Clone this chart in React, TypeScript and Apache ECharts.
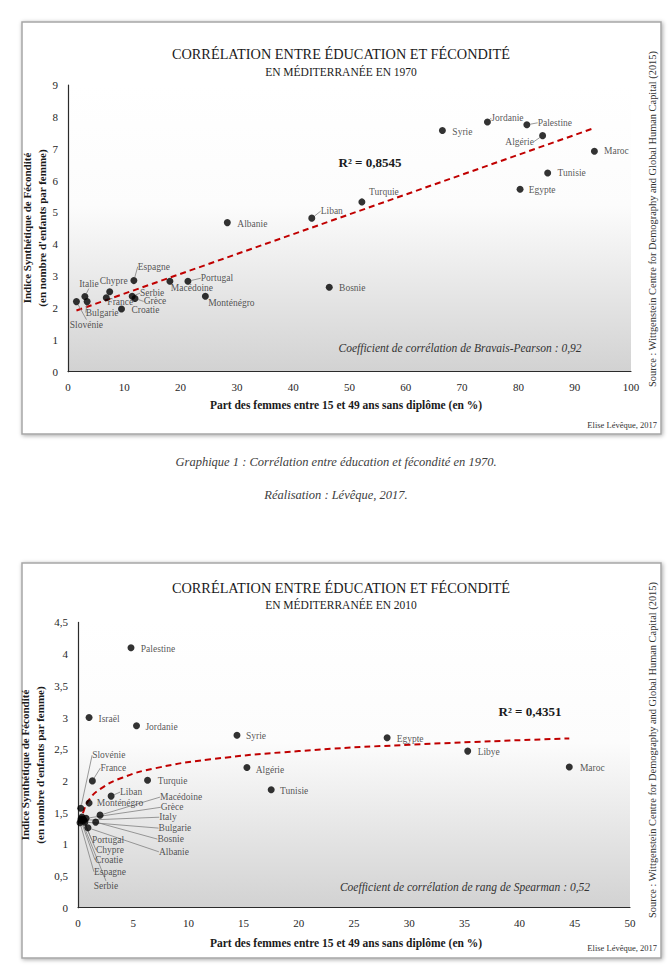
import React, { useEffect, useRef } from 'react';
import * as echarts from 'echarts';

// ---------- DATA (1970) ----------
const countries1970 = ['Slovénie', 'Italie', 'Bulgarie', 'Chypre', 'France', 'Espagne', 'Serbie', 'Grèce', 'Croatie', 'Macédoine', 'Portugal', 'Monténégro', 'Albanie', 'Liban', 'Bosnie', 'Turquie', 'Syrie', 'Jordanie', 'Palestine', 'Algérie', 'Maroc', 'Tunisie', 'Egypte'];
const share1970 = [1.5, 3.0, 3.4, 7.4, 6.8, 11.7, 11.4, 11.9, 9.5, 18.1, 21.3, 24.4, 28.3, 43.3, 46.4, 52.2, 66.5, 74.5, 81.5, 84.3, 93.5, 85.2, 80.3];
const fertility1970 = [2.2, 2.36, 2.2, 2.51, 2.32, 2.86, 2.37, 2.3, 1.97, 2.84, 2.84, 2.37, 4.68, 4.82, 2.65, 5.33, 7.57, 7.84, 7.75, 7.41, 6.92, 6.24, 5.73];
const trend1970 = [[1.5, 1.92], [93.5, 7.65]];
const r2Text1970 = 'R² = 0,8545';
const coefText1970 = 'Coefficient de corrélation de Bravais-Pearson : 0,92';

// ---------- DATA (2010) ----------
const countries2010 = ['Palestine', 'Israël', 'Jordanie', 'Syrie', 'Algérie', 'Tunisie', 'Turquie', 'Egypte', 'Libye', 'Maroc', 'France', 'Slovénie', 'Liban', 'Monténégro', 'Macédoine', 'Grèce', 'Italy', 'Bulgarie', 'Bosnie', 'Albanie', 'Portugal', 'Chypre', 'Croatie', 'Espagne', 'Serbie'];
const share2010 = [4.8, 1.0, 5.3, 14.4, 15.3, 17.5, 6.3, 28.0, 35.3, 44.5, 1.3, 0.25, 3.0, 1.0, 2.0, 0.73, 0.54, 0.63, 1.6, 0.9, 0.36, 0.45, 0.27, 0.18, 0.27];
const fertility2010 = [4.1, 3.0, 2.87, 2.72, 2.21, 1.86, 2.01, 2.68, 2.47, 2.22, 2.0, 1.57, 1.76, 1.65, 1.46, 1.41, 1.38, 1.35, 1.35, 1.26, 1.43, 1.4, 1.37, 1.34, 1.4];
const trend2010 = [[0.25, 1.34], [0.5, 1.52], [1, 1.7], [2, 1.87], [4, 2.05], [7, 2.2], [12, 2.34], [20, 2.47], [30, 2.57], [44.5, 2.67]];
const r2Text2010 = 'R² = 0,4351';
const coefText2010 = 'Coefficient de corrélation de rang de Spearman : 0,52';

// ---------- TICKS ----------
const xTicks1970 = { min: 0, max: 100, interval: 10 };
const yTicks1970 = { min: 0, max: 9, interval: 1 };
const xTicks2010 = { min: 0, max: 50, interval: 5 };
const yTicks2010 = { min: 0, max: 4.5, interval: 0.5 };

// ---------- LABEL PLACEMENT (pixel offsets from the point) ----------
const labelOffsets1970: Record<string, [number, number]> = {
  'Slovénie': [10, 23], 'Italie': [4, -13], 'Bulgarie': [15, 11], 'Chypre': [4, -11], 'France': [14, 4],
  'Espagne': [20, -14], 'Serbie': [20, -3], 'Grèce': [20, 3], 'Croatie': [24, 1], 'Macédoine': [22, 7],
  'Portugal': [29, -3], 'Monténégro': [26, 7], 'Albanie': [25, 1], 'Liban': [20, -7], 'Bosnie': [23, 1],
  'Turquie': [22, -10], 'Syrie': [20, 1], 'Jordanie': [20, -4], 'Palestine': [28, -2], 'Algérie': [-23, 6],
  'Maroc': [22, 0], 'Tunisie': [24, 0], 'Egypte': [22, 1],
};
const leader1970 = ['Slovénie', 'Italie', 'Bulgarie', 'Espagne', 'Serbie', 'Grèce', 'Portugal', 'Liban', 'Jordanie', 'Palestine', 'Algérie'];

const labelOffsets2010: Record<string, [number, number]> = {
  'Palestine': [27, 1], 'Israël': [20, 1], 'Jordanie': [25, 1], 'Syrie': [19, 1], 'Algérie': [23, 2],
  'Tunisie': [23, 1], 'Turquie': [25, 1], 'Egypte': [23, 1], 'Libye': [21, 1], 'Maroc': [23, 1],
  'France': [21, -13], 'Slovénie': [28, -53], 'Liban': [20, -4], 'Monténégro': [31, 0],
  'Macédoine': [81, -18], 'Grèce': [86, -11], 'Italy': [84, -3], 'Bulgarie': [90, 6], 'Bosnie': [75, 17],
  'Albanie': [86, 24], 'Portugal': [26, 23], 'Chypre': [27, 31], 'Croatie': [28, 39], 'Espagne': [30, 49],
  'Serbie': [25, 67],
};
const leader2010 = ['France', 'Slovénie', 'Liban', 'Macédoine', 'Grèce', 'Italy', 'Bulgarie', 'Bosnie', 'Albanie', 'Portugal', 'Chypre', 'Croatie', 'Espagne', 'Serbie'];

const SERIF = "'Liberation Serif', 'Times New Roman', serif";

function buildPoints(names: string[], xs: number[], ys: number[], leaders: string[]) {
  return names.map((n, i) => ({
    name: n,
    value: [xs[i], ys[i]],
    labelLine: { show: leaders.indexOf(n) >= 0 },
  }));
}

function axisCommon() {
  return {
    type: 'value' as const,
    axisLine: { show: true, onZero: false, lineStyle: { color: '#2b2b2b', width: 1.2 } },
    axisTick: { show: false },
    splitLine: { show: false },
    axisLabel: { fontFamily: SERIF, fontSize: 11, color: '#262626', margin: 10 },
  };
}

const plotBg = () =>
  new echarts.graphic.LinearGradient(0, 0, 0, 1, [
    { offset: 0, color: '#ffffff' },
    { offset: 0.42, color: '#fcfcfc' },
    { offset: 1, color: '#d2d2d2' },
  ]);

function txt(x: number, y: number, text: string, style: any, extra: any = {}) {
  return {
    type: 'text',
    x,
    y,
    z: 5,
    ...extra,
    style: { text, fontFamily: SERIF, fill: '#1a1a1a', align: 'center', verticalAlign: 'middle', ...style },
  };
}

function frame(y: number, h: number) {
  return {
    type: 'rect',
    z: -10,
    shape: { x: 22, y, width: 639, height: h },
    style: {
      fill: '#ffffff',
      stroke: '#a6a6a6',
      lineWidth: 1.5,
      shadowBlur: 4,
      shadowOffsetX: 1,
      shadowOffsetY: 1,
      shadowColor: 'rgba(0,0,0,0.35)',
    },
  };
}

export default function App() {
  const ref = useRef<HTMLDivElement>(null);

  useEffect(() => {
    if (!ref.current) return;
    const chart = echarts.init(ref.current, undefined, { renderer: 'svg' });

    const labelStyle = {
      show: true,
      position: 'inside',
      formatter: '{b}',
      fontFamily: SERIF,
      fontSize: 9.5,
      color: '#2a2a2a',
      align: 'center',
      verticalAlign: 'middle',
    };
    const lineStyleLeader = { show: true, lineStyle: { color: '#808080', width: 0.8 } };

    const option: any = {
      animation: false,
      backgroundColor: '#ffffff',
      grid: [
        { left: 68, top: 85, width: 563, height: 286.7, show: true, backgroundColor: plotBg(), borderWidth: 0, z: 0 },
        { left: 78, top: 622.4, width: 552, height: 285.3, show: true, backgroundColor: plotBg(), borderWidth: 0, z: 0 },
      ],
      xAxis: [
        { ...axisCommon(), gridIndex: 0, ...xTicks1970 },
        { ...axisCommon(), gridIndex: 1, ...xTicks2010 },
      ],
      yAxis: [
        { ...axisCommon(), gridIndex: 0, ...yTicks1970 },
        {
          ...axisCommon(),
          gridIndex: 1,
          ...yTicks2010,
          axisLabel: { ...axisCommon().axisLabel, formatter: (v: number) => String(v).replace('.', ',') },
        },
      ],
      series: [
        {
          type: 'line',
          xAxisIndex: 0,
          yAxisIndex: 0,
          data: trend1970,
          symbol: 'none',
          z: 2,
          lineStyle: { color: '#c00000', width: 2, type: [6, 4] },
        },
        {
          type: 'line',
          xAxisIndex: 1,
          yAxisIndex: 1,
          data: trend2010,
          symbol: 'none',
          smooth: true,
          z: 2,
          lineStyle: { color: '#c00000', width: 2, type: [6, 4] },
        },
        {
          type: 'scatter',
          xAxisIndex: 0,
          yAxisIndex: 0,
          symbolSize: 7,
          z: 4,
          itemStyle: { color: '#000000' },
          data: buildPoints(countries1970, share1970, fertility1970, leader1970),
          label: labelStyle,
          labelLine: lineStyleLeader,
          labelLayout: (p: any) => {
            const o = labelOffsets1970[countries1970[p.dataIndex]] || [20, 0];
            return { dx: o[0], dy: o[1] };
          },
        },
        {
          type: 'scatter',
          xAxisIndex: 1,
          yAxisIndex: 1,
          symbolSize: 7,
          z: 4,
          itemStyle: { color: '#000000' },
          data: buildPoints(countries2010, share2010, fertility2010, leader2010),
          label: labelStyle,
          labelLine: lineStyleLeader,
          labelLayout: (p: any) => {
            const o = labelOffsets2010[countries2010[p.dataIndex]] || [20, 0];
            return { dx: o[0], dy: o[1] };
          },
        },
      ],
      graphic: [
        frame(22, 412),
        frame(563, 395),
        // ----- chart 1970 texts -----
        txt(341, 54, 'CORRÉLATION ENTRE ÉDUCATION ET FÉCONDITÉ', { fontSize: 14.3 }),
        txt(341, 72, 'EN MÉDITERRANÉE EN 1970', { fontSize: 11.5 }),
        txt(34, 228, "Indice Synthétique de Fécondité\n(en nombre d'enfants par femme)", { fontSize: 11, fontWeight: 'bold', lineHeight: 15 }, { rotation: Math.PI / 2 }),
        txt(346, 405, 'Part des femmes entre 15 et 49 ans sans diplôme (en %)', { fontSize: 11.5, fontWeight: 'bold' }),
        txt(652, 219, 'Source : Wittgenstein Centre for Demography and Global Human Capital (2015)', { fontSize: 10.4, fill: '#333' }, { rotation: Math.PI / 2 }),
        txt(657, 425, 'Elise Lévêque, 2017', { fontSize: 8.5, align: 'right', fill: '#333' }),
        txt(370, 162, r2Text1970, { fontSize: 13, fontWeight: 'bold' }),
        txt(460, 348, coefText1970, { fontSize: 11.5, fontStyle: 'italic', fill: '#333' }),
        // ----- captions -----
        txt(336, 462, 'Graphique 1 : Corrélation entre éducation et fécondité en 1970.', { fontSize: 12.5, fontStyle: 'italic', fill: '#404040' }),
        txt(336, 495, 'Réalisation : Lévêque, 2017.', { fontSize: 12.5, fontStyle: 'italic', fill: '#404040' }),
        // ----- chart 2010 texts -----
        txt(341, 588, 'CORRÉLATION ENTRE ÉDUCATION ET FÉCONDITÉ', { fontSize: 14.3 }),
        txt(341, 605, 'EN MÉDITERRANÉE EN 2010', { fontSize: 11.5 }),
        txt(32, 765, "Indice Synthétique de Fécondité\n(en nombre d'enfants par femme)", { fontSize: 11, fontWeight: 'bold', lineHeight: 15 }, { rotation: Math.PI / 2 }),
        txt(346, 943, 'Part des femmes entre 15 et 49 ans sans diplôme (en %)', { fontSize: 11.5, fontWeight: 'bold' }),
        txt(652, 750, 'Source : Wittgenstein Centre for Demography and Global Human Capital (2015)', { fontSize: 10.4, fill: '#333' }, { rotation: Math.PI / 2 }),
        txt(657, 948, 'Elise Lévêque, 2017', { fontSize: 8.5, align: 'right', fill: '#333' }),
        txt(530, 711, r2Text2010, { fontSize: 13, fontWeight: 'bold' }),
        txt(465, 887, coefText2010, { fontSize: 11.5, fontStyle: 'italic', fill: '#333' }),
      ],
    };

    chart.setOption(option);
    return () => chart.dispose();
  }, []);

  return (
    <div
      ref={ref}
      style={{ position: 'absolute', left: 0, top: 0, width: 672, height: 968, background: '#fff' }}
    />
  );
}
